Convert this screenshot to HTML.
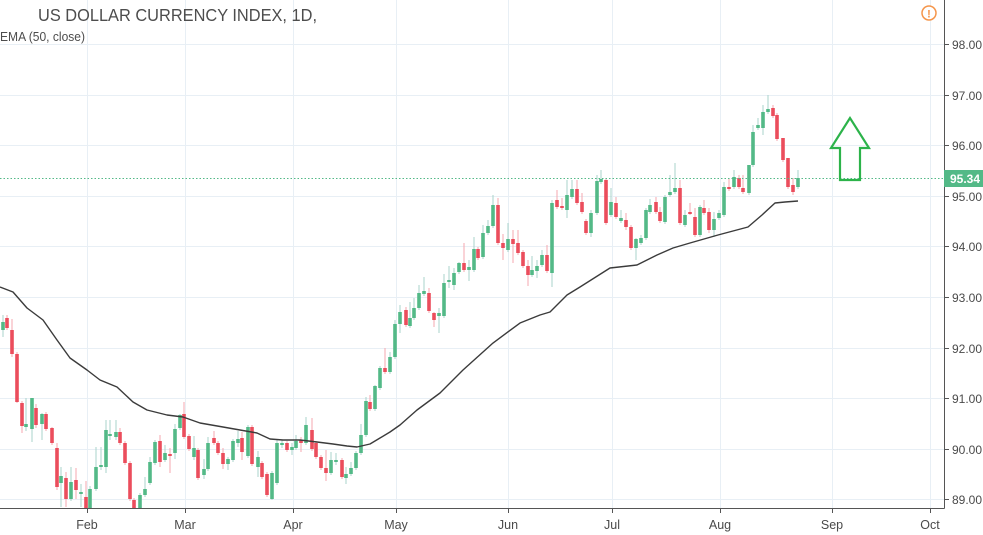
<!DOCTYPE html>
<html><head><meta charset="utf-8"><style>
html,body{margin:0;padding:0;background:#fff;width:983px;height:535px;overflow:hidden}
svg{display:block;font-family:"Liberation Sans",Arial,sans-serif}
</style></head><body>
<svg width="983" height="535" viewBox="0 0 983 535" xmlns="http://www.w3.org/2000/svg">
<defs><clipPath id="c"><rect x="0" y="0" width="944" height="508"/></clipPath></defs>
<rect width="983" height="535" fill="#fff"/>
<g stroke="#e8eff5" stroke-width="1" fill="none">
<path d="M0 44.5H944M0 95.5H944M0 145.5H944M0 196.5H944M0 246.5H944M0 297.5H944M0 348.5H944M0 398.5H944M0 449.5H944M0 499.5H944"/>
<path d="M87.5 0V508M185.5 0V508M293.5 0V508M396.5 0V508M508.5 0V508M612.5 0V508M720.5 0V508M832.5 0V508M930.5 0V508"/>
</g>
<g clip-path="url(#c)">
<path fill="none" stroke="#a9d3cb" stroke-width="1" d="M3 315V337M26 398V431M32 398V442M42 413V440M61 467V507M71 467V501M81 484V507M90 486V510M96 447V491M101 447V470M106 420V473M110 420V440M116 420V440M140 493V510M145 477V497M150 457V485M155 440V465M165 445V462M175 424V459M180 414V430M194 436V460M204 459V479M208 437V471M228 457V470M233 439V462M238 431V447M248 425V458M258 451V477M272 471V500M277 440V485M282 440V448M292 443V455M296 435V450M306 417V445M331 452V475M336 453V465M346 467V484M351 462V476M356 451V470M361 424V455M366 397V437M375 385V411M380 366V390M390 352V374M395 320V359M400 305V333M410 302V328M414 298V320M419 285V310M424 277V296M439 308V333M444 274V318M449 266V288M454 268V290M459 262V274M469 260V281M474 237V272M483 225V259M488 220V235M493 195V228M508 223V252M532 256V277M537 260V278M542 250V267M552 200V287M567 180V218M572 180V199M591 210V237M597 175V215M601 170V184M611 188V217M621 210V223M636 238V260M641 235V245M646 208V240M650 199V214M665 195V224M670 175V197M675 163V194M685 210V227M700 205V237M714 212V237M719 210V220M724 182V217M734 170V189M749 165V195M753 125V167M758 118V130M763 105V135M768 95V114M798 170V189"/>
<path fill="none" stroke="#f4a7af" stroke-width="1" d="M7 315V330M12 319V357M17 352V403M22 401V433M36 404V428M46 412V431M52 427V445M57 443V490M66 472V507M76 468V499M86 481V510M120 428V445M125 441V465M130 461V501M134 498V510M160 435V467M170 448V473M184 402V439M189 434V451M198 448V480M214 431V445M218 441V455M223 448V469M242 432V460M252 425V466M262 461V479M267 472V497M287 441V452M301 437V452M312 418V451M316 441V459M321 455V470M326 450V481M342 458V479M370 395V411M385 348V374M406 307V327M429 288V313M434 312V327M464 243V272M478 247V260M498 198V245M503 234V260M513 230V263M518 230V255M523 250V268M528 260V286M547 245V273M557 190V209M562 198V210M577 180V205M582 193V214M586 219V235M606 178V225M616 197V219M626 213V230M631 225V250M656 197V214M660 207V223M680 180V225M690 203V215M695 208V237M704 200V215M709 208V233M729 178V191M739 175V189M743 175V194M773 105V118M777 113V141M783 138V162M788 158V189M793 178V195"/>
<path fill="none" stroke="#53b987" stroke-width="3.6" d="M3 322V330M26 424V427M32 398V429M42 414V424M61 476V483M71 482V499M81 492V494M90 489V510M96 467V489M101 465V467M106 430V467M110 434V436M116 432V437M140 495V510M145 489V495M150 462V483M155 442V463M165 453V460M175 429V453M180 415V428M194 448V457M204 469V475M208 443V469M228 459V464M233 441V460M238 439V443M248 427V456M258 457V467M272 473V499M277 443V483M282 443V445M292 447V450M296 441V448M306 425V443M331 460V473M336 460V462M346 474V478M351 468V474M356 453V468M361 435V453M366 401V435M375 386V409M380 368V388M390 357V372M395 324V357M400 312V324M410 318V326M414 308V318M419 293V308M424 291V294M439 313V316M444 283V316M449 280V282M454 273V285M459 263V272M469 267V270M474 249V270M483 233V257M488 226V233M493 205V226M508 239V250M532 270V275M537 266V271M542 255V265M552 203V273M567 195V210M572 189V197M591 213V233M597 181V213M601 179V182M611 202V215M621 218V221M636 239V248M641 238V243M646 210V238M650 205V212M665 197V222M670 192V195M675 188V192M685 215V225M700 207V235M714 219V230M719 213V218M724 187V215M734 177V187M749 165V193M753 132V165M758 125V128M763 112V128M768 109V112M798 178V187"/>
<path fill="none" stroke="#eb4d5c" stroke-width="3.6" d="M7 318V328M12 330V354M17 354V402M22 403V426M36 408V425M46 414V429M52 428V443M57 448V487M66 478V499M76 480V490M86 497V510M120 432V443M125 443V463M130 463V499M134 500V510M160 441V462M170 454V456M184 414V437M189 436V449M198 450V478M214 438V443M218 443V453M223 453V464M242 438V452M252 427V464M262 463V477M267 474V495M287 443V450M301 440V443M312 430V449M316 443V457M321 457V468M326 468V473M342 460V477M370 402V409M385 368V372M406 310V325M429 293V311M434 313V320M464 263V270M478 249V258M498 205V243M503 243V248M513 239V244M518 243V253M523 252V266M528 266V275M547 255V271M557 200V207M562 206V208M577 189V203M582 202V212M586 221V233M606 180V223M616 203V217M626 220V227M631 227V248M656 202V212M660 212V221M680 188V223M690 212V214M695 217V235M704 208V213M709 212V230M729 187V189M739 178V187M743 188V192M773 108V116M777 115V139M783 138V160M788 158V187M793 185V192"/>
<polyline fill="none" stroke="#3b3b3b" stroke-width="1.4" stroke-linejoin="round" points="0,287 13,292 27,308 43,320 57,340 70,358 87,370 100,380 117,387 133,402 147,410 167,415 183,417 200,423 223,427 240,430 257,433 270,439 283,440 300,440 317,442 333,444 347,446 357,447 370,444 380,438 390,432 400,425 417,410 440,393 463,370 493,343 520,323 540,315 550,312 567,295 580,287 610,268 637,265 657,255 673,248 690,243 718,235 748,227 762,215 775,203 785,202 798,201"/>
</g>
<line x1="0" y1="178.5" x2="944" y2="178.5" stroke="#53b987" stroke-width="1" stroke-dasharray="1.5,2"/>
<polygon points="850,118 831,148 840,148 840,180 860,180 860,148 869,148" fill="none" stroke="#2cb34a" stroke-width="2.2" stroke-linejoin="miter"/>
<g stroke="#555" stroke-width="1" fill="none">
<path d="M944.5 0V508.5M0 508.5H944.5"/>
<path d="M944 44.5H949M944 95.5H949M944 145.5H949M944 196.5H949M944 246.5H949M944 297.5H949M944 348.5H949M944 398.5H949M944 449.5H949M944 499.5H949"/>
<path d="M87.5 508V513M185.5 508V513M293.5 508V513M396.5 508V513M508.5 508V513M612.5 508V513M720.5 508V513M832.5 508V513M930.5 508V513"/>
</g>
<g fill="#4a4a4a" font-size="12">
<text x="952" y="49">98.00</text>
<text x="952" y="100">97.00</text>
<text x="952" y="150">96.00</text>
<text x="952" y="201">95.00</text>
<text x="952" y="251">94.00</text>
<text x="952" y="302">93.00</text>
<text x="952" y="353">92.00</text>
<text x="952" y="403">91.00</text>
<text x="952" y="454">90.00</text>
<text x="952" y="504">89.00</text>
</g>
<rect x="944" y="170" width="39" height="17" fill="#53b987"/>
<text x="950" y="183" fill="#fff" font-size="12" font-weight="bold">95.34</text>
<g fill="#4a4a4a" font-size="12.5" text-anchor="middle">
<text x="87" y="529">Feb</text>
<text x="185" y="529">Mar</text>
<text x="293" y="529">Apr</text>
<text x="396" y="529">May</text>
<text x="508" y="529">Jun</text>
<text x="612" y="529">Jul</text>
<text x="720" y="529">Aug</text>
<text x="832" y="529">Sep</text>
<text x="930" y="529">Oct</text>
</g>
<text x="38" y="21" fill="#4d4d4d" font-size="17.5" textLength="279" lengthAdjust="spacingAndGlyphs">US DOLLAR CURRENCY INDEX, 1D,</text>
<text x="0" y="41" fill="#4d4d4d" font-size="12.5" textLength="85" lengthAdjust="spacingAndGlyphs">EMA (50, close)</text>
<circle cx="929" cy="13" r="7" fill="#fff" stroke="#f5954a" stroke-width="1.5"/>
<text x="929" y="17.5" fill="#f5954a" font-size="11" font-weight="bold" text-anchor="middle">!</text>
</svg>
</body></html>
